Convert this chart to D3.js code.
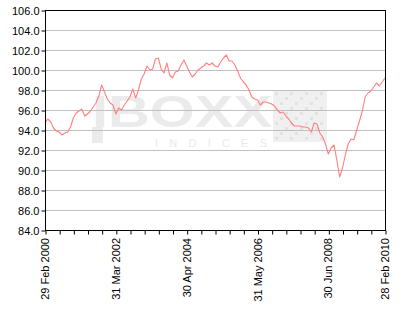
<!DOCTYPE html>
<html>
<head>
<meta charset="utf-8">
<script src="https://cdn.jsdelivr.net/npm/d3@7"></script>
<style>
  html, body { margin: 0; padding: 0; background: #fff; }
  svg { display: block; }
  text { font-family: Arial, "Liberation Sans", sans-serif; }
</style>
</head>
<body>
<svg id="chart" width="400" height="310"></svg>
<script>
// ---- Data (monthly index level, Feb 2000 .. Feb 2010) ----
const values = [
  94.7, 95.1, 94.8, 94.2, 93.9, 93.8, 93.5, 93.7, 93.8, 94.3,
  95.2, 95.7, 95.9, 96.1, 95.4, 95.6, 95.9, 96.3, 96.7, 97.4,
  98.5, 97.8, 97.1, 96.7, 96.5, 95.6, 96.2, 96.0, 96.5, 96.9,
  97.3, 98.1, 97.2, 98.0, 99.1, 99.6, 100.4, 100.0, 100.1, 101.1,
  101.2, 100.1, 99.7, 100.7, 99.5, 99.2, 99.8, 99.9, 100.5, 101.0,
  100.4, 99.8, 99.3, 99.6, 100.0, 100.2, 100.4, 100.7, 100.5, 100.7,
  100.4, 100.3, 100.8, 101.2, 101.5, 100.9, 100.9, 100.5, 99.9, 99.2,
  98.8, 98.5, 98.0, 97.3, 97.1, 97.0, 96.5, 96.8, 96.8, 96.7,
  96.6, 96.4, 96.0, 95.7, 95.8, 95.4, 95.1, 94.7, 94.4, 94.4,
  94.4, 94.3, 94.3, 94.2, 93.8, 94.7, 94.6, 93.7, 93.3, 92.6,
  91.6, 92.2, 92.5, 91.0, 89.3, 90.2, 91.5, 92.6, 93.1, 93.0,
  94.0, 94.9, 95.9, 97.3, 97.7, 97.9, 98.3, 98.7, 98.4, 98.8,
  99.2
];
const yTicks = [84, 86, 88, 90, 92, 94, 96, 98, 100, 102, 104, 106];
const xTickIndex = [0,5,10,15,20,25,30,35,40,45,50,55,60,65,70,75,80,85,90,95,100,105,110,115,120];
const xLabelIndex = [0, 25, 50, 75, 100, 120];
const xLabels = ["29 Feb 2000", "31 Mar 2002", "30 Apr 2004", "31 May 2006", "30 Jun 2008", "28 Feb 2010"];
const watermarkMain = "IBOXX";
const watermarkSub = "INDICES";

// ---- Layout ----
const svg = d3.select("#chart");
const L = 45, R = 385, T = 10, B = 230;

const x = d3.scaleLinear().domain([0, values.length - 1]).range([L, R]);
const y = d3.scaleLinear().domain([84, 106]).range([B, T]);

// watermark
const wm = svg.append("g").attr("fill", "#ebebeb");
wm.append("text")
  .attr("x", 92).attr("y", 127)
  .attr("font-size", 44).attr("font-weight", "bold")
  .attr("textLength", 180).attr("lengthAdjust", "spacingAndGlyphs")
  .text(watermarkMain);
wm.append("text")
  .attr("x", 155).attr("y", 146.5)
  .attr("font-size", 11)
  .attr("textLength", 112).attr("lengthAdjust", "spacing")
  .text(watermarkSub);
wm.append("rect").attr("x", 92).attr("y", 127).attr("width", 11).attr("height", 16);
const logo = wm.append("g");
logo.append("rect").attr("x", 273).attr("y", 90).attr("width", 54).attr("height", 52).attr("fill", "#f0f0f0");
for (let r = 0; r < 10; r++) {
  for (let c = 0; c < 10; c++) {
    if ((r + c) % 3 === 0) {
      logo.append("rect").attr("x", 275 + c * 5).attr("y", 92 + r * 5)
        .attr("width", 3).attr("height", 3).attr("fill", "#e2e2e2");
    }
  }
}

// gridlines
svg.append("g").selectAll("line").data(yTicks.filter(v => v > 84 && v < 106)).join("line")
  .attr("x1", L).attr("x2", R)
  .attr("y1", d => y(d) + 0.5).attr("y2", d => y(d) + 0.5)
  .attr("stroke", "#c0c0c0").attr("stroke-width", 1);

// line
const line = d3.line().x((d, i) => x(i)).y(d => y(d));
svg.append("path").datum(values)
  .attr("d", line)
  .attr("fill", "none")
  .attr("stroke", "#ff8080")
  .attr("stroke-width", 1.1)
  .attr("stroke-linejoin", "round");

// frame
svg.append("rect").attr("x", L + 0.5).attr("y", T + 0.5)
  .attr("width", R - L).attr("height", B - T)
  .attr("fill", "none").attr("stroke", "#000").attr("stroke-width", 1);

// y axis
const yAxis = d3.axisLeft(y).tickValues(yTicks).tickFormat(d3.format(".1f")).tickSize(4).tickPadding(2);
const gy = svg.append("g").attr("transform", `translate(${L + 0.5},0.5)`).call(yAxis);
gy.select(".domain").remove();
gy.selectAll("text").attr("font-size", 11).attr("fill", "#000").attr("font-family", "Arial, 'Liberation Sans', sans-serif");
gy.selectAll("line").attr("stroke", "#000");

// x axis
const xAxis = d3.axisBottom(x).tickValues(xTickIndex).tickFormat("").tickSize(4);
const gx = svg.append("g").attr("transform", `translate(0.5,${B + 0.5})`).call(xAxis);
gx.select(".domain").remove();
gx.selectAll("line").attr("stroke", "#000");

svg.append("g").selectAll("text").data(xLabelIndex).join("text")
  .attr("transform", d => `translate(${x(d) + 4},${B + 8}) rotate(-90)`)
  .attr("text-anchor", "end")
  .attr("font-size", 11)
  .attr("fill", "#000")
  .text((d, i) => xLabels[i]);
</script>
</body>
</html>
